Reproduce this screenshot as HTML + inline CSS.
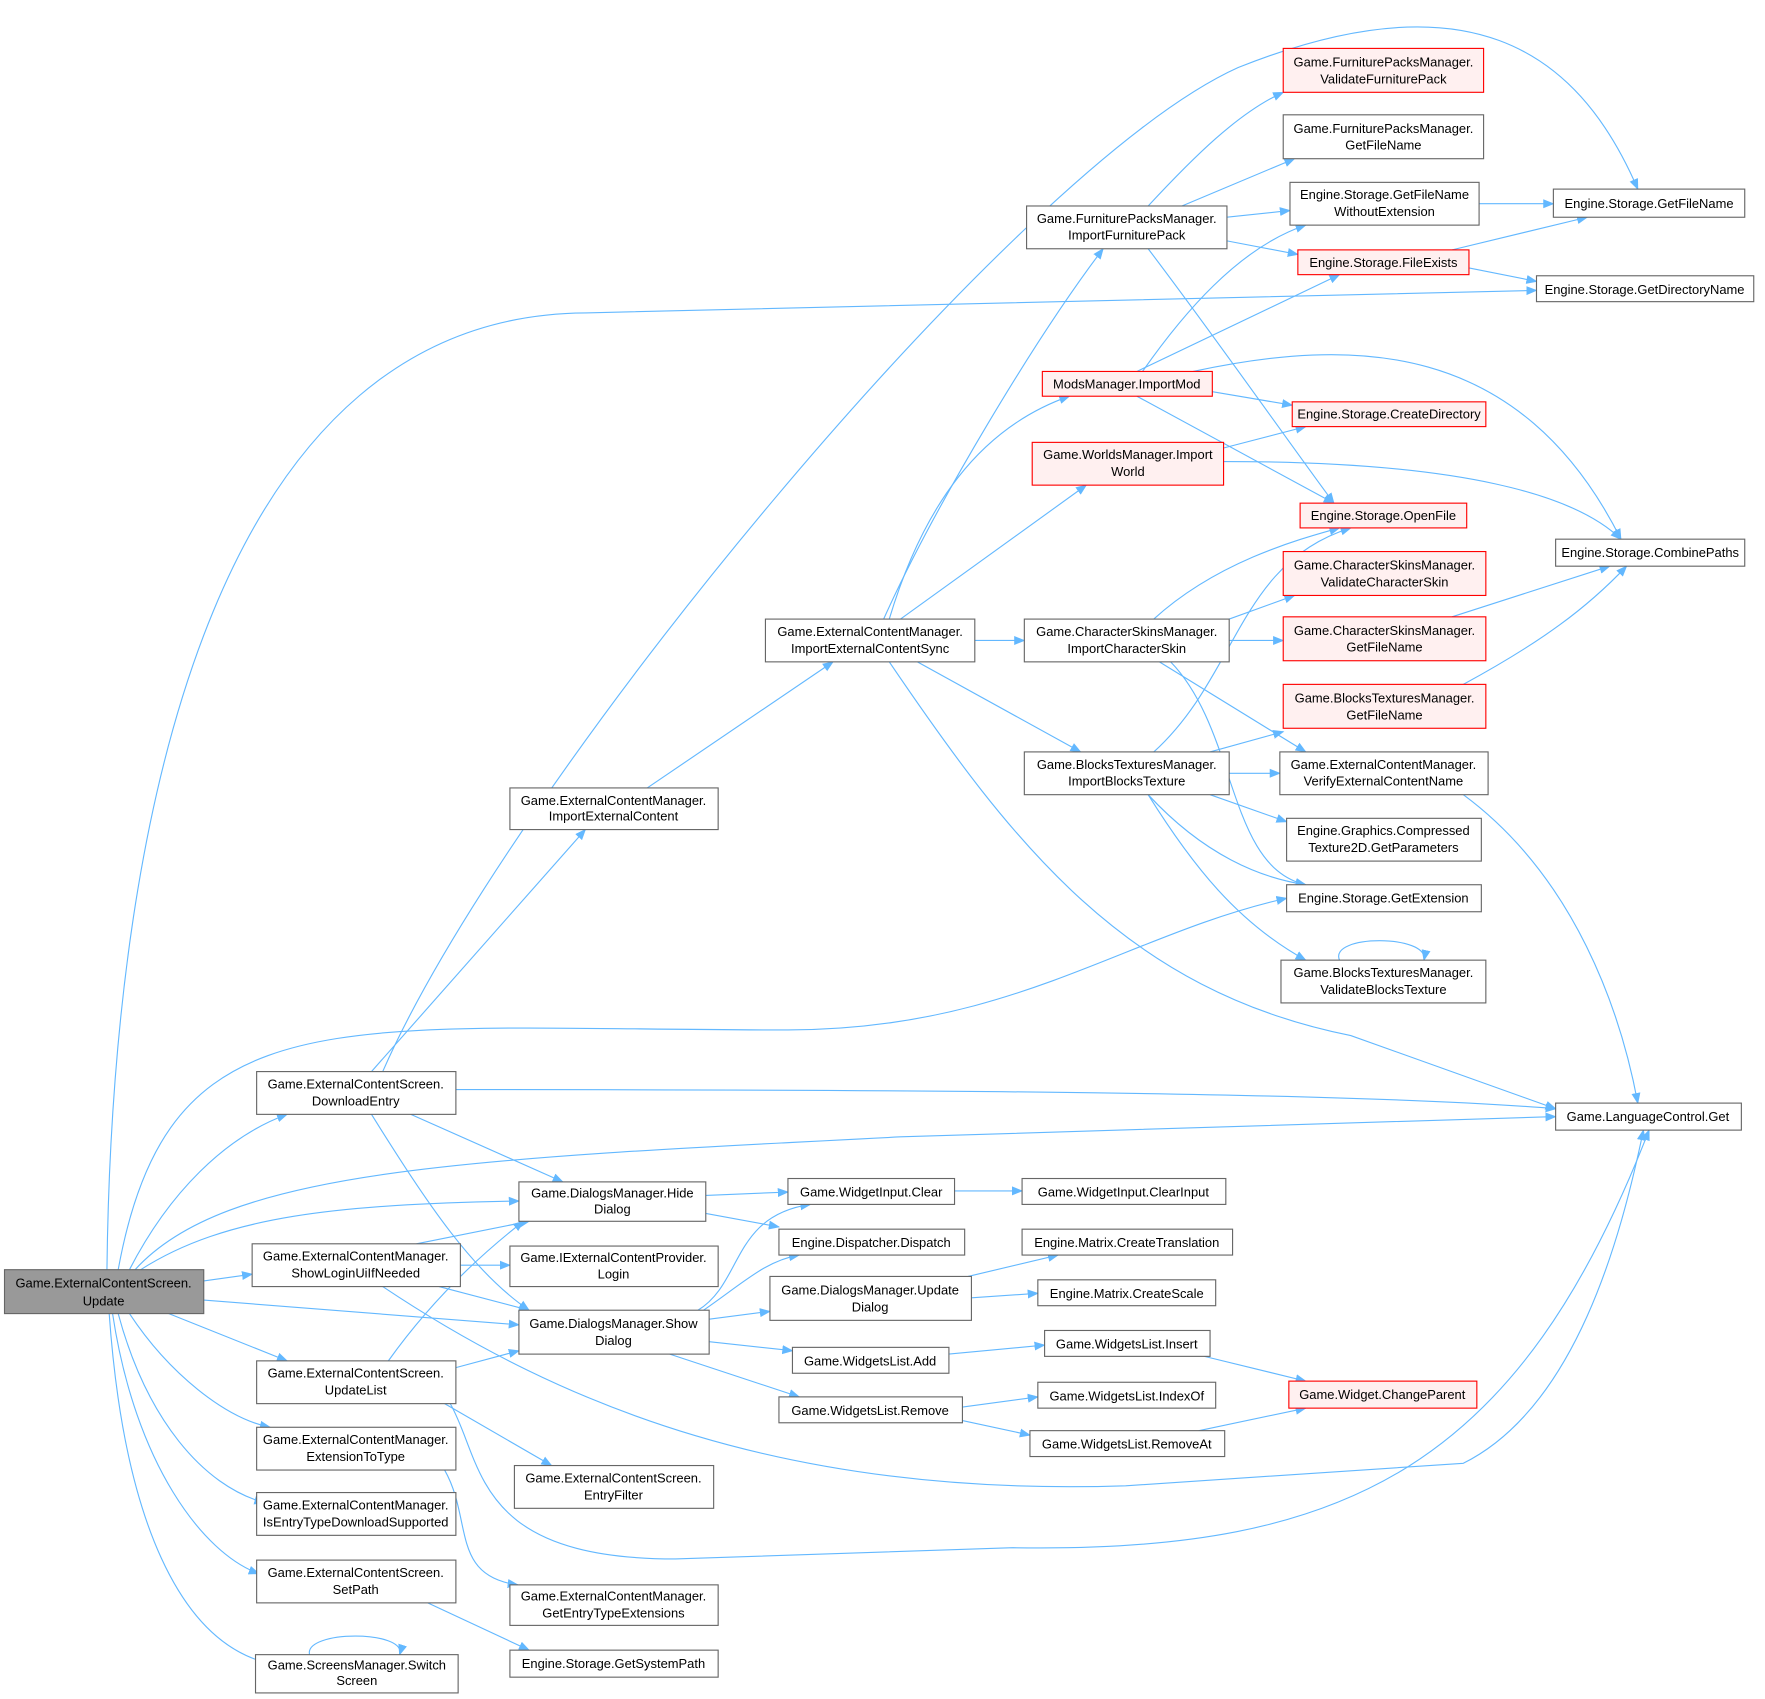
<!DOCTYPE html>
<html><head><meta charset="utf-8"><style>
html,body{margin:0;padding:0;background:#fff;}
svg{display:block;}
text{font-family:"Liberation Sans",Arial,sans-serif;font-size:11.5px;fill:#000;text-anchor:middle;}
.n{fill:#fff;stroke:#666;stroke-width:1;}
.r{fill:#fff0f0;stroke:#f00;stroke-width:1;}
.g{fill:#999;stroke:#666;stroke-width:1;}
.e{fill:none;stroke:#63b8ff;stroke-width:1;marker-end:url(#a);}
</style></head><body>
<svg width="1765" height="1699" viewBox="0 0 1568 1509.4" preserveAspectRatio="none" xmlns="http://www.w3.org/2000/svg">
<defs><marker id="a" viewBox="0 0 10 10" refX="9" refY="5" markerWidth="10" markerHeight="10" markerUnits="userSpaceOnUse" orient="auto"><path d="M0,1 L10,5 L0,9 z" fill="#63b8ff"/></marker></defs>
<g>
<path class="e" d="M95,1128 C100,700 200,280 520,278 L1365,258"/>
<path class="e" d="M105,1128 C150,880 300,915 700,915 C900,915 1000,830 1143,798"/>
<path class="e" d="M115,1128 C150,1060 200,1010 255,990"/>
<path class="e" d="M120,1128 C200,1040 400,1030 800,1010 L1382,992"/>
<path class="e" d="M125,1128 C200,1080 300,1070 461,1067"/>
<path class="e" d="M181,1138 L224,1132"/>
<path class="e" d="M181,1155 L461,1177"/>
<path class="e" d="M150,1167 L255,1209"/>
<path class="e" d="M115,1167 C150,1220 200,1260 240,1268"/>
<path class="e" d="M105,1167 C130,1260 180,1320 235,1335"/>
<path class="e" d="M100,1167 C120,1300 180,1380 230,1398"/>
<path class="e" d="M97,1167 C110,1350 160,1460 240,1478"/>
<path class="e" d="M340,952 C450,700 900,150 1100,60 C1300,-20 1400,40 1455,168"/>
<path class="e" d="M330,952 L520,737"/>
<path class="e" d="M405,968 C800,968 1200,970 1382,985"/>
<path class="e" d="M365,990 L500,1050"/>
<path class="e" d="M330,990 C380,1070 420,1130 470,1164"/>
<path class="e" d="M575,700 L740,588"/>
<path class="e" d="M370,1105 L470,1085"/>
<path class="e" d="M409,1124 L453,1124"/>
<path class="e" d="M390,1143 L470,1164"/>
<path class="e" d="M340,1143 C500,1250 700,1330 1000,1320 L1300,1300 C1400,1250 1440,1100 1460,1004"/>
<path class="e" d="M345,1209 C380,1160 420,1120 465,1085"/>
<path class="e" d="M405,1215 L461,1200"/>
<path class="e" d="M395,1247 L490,1302"/>
<path class="e" d="M400,1247 C430,1300 420,1385 600,1385 L900,1375 C1200,1380 1350,1300 1465,1004"/>
<path class="e" d="M395,1306 C420,1350 400,1400 460,1408"/>
<path class="e" d="M380,1424 L470,1466"/>
<path class="e" d="M275,1470 C270,1448 362,1448 355,1470"/>
<path class="e" d="M627,1062 L700,1059"/>
<path class="e" d="M627,1078 L692,1090"/>
<path class="e" d="M620,1164 C660,1140 650,1080 720,1070"/>
<path class="e" d="M625,1164 C660,1140 680,1120 710,1115"/>
<path class="e" d="M630,1172 L684,1165"/>
<path class="e" d="M630,1192 L704,1200"/>
<path class="e" d="M595,1203 L710,1241"/>
<path class="e" d="M848,1058 L908,1058"/>
<path class="e" d="M860,1134 L940,1115"/>
<path class="e" d="M863,1153 L922,1149"/>
<path class="e" d="M843,1203 L928,1195"/>
<path class="e" d="M855,1250 L922,1241"/>
<path class="e" d="M855,1262 L915,1275"/>
<path class="e" d="M1070,1205 L1160,1227"/>
<path class="e" d="M1065,1271 L1160,1251"/>
<path class="e" d="M785,550 C830,450 920,300 980,221"/>
<path class="e" d="M790,550 C820,450 870,380 950,352"/>
<path class="e" d="M800,550 L965,431"/>
<path class="e" d="M866,569 L910,569"/>
<path class="e" d="M815,588 L960,668"/>
<path class="e" d="M790,588 C900,750 1000,880 1200,920 L1382,985"/>
<path class="e" d="M1020,183 C1060,140 1100,100 1140,82"/>
<path class="e" d="M1050,183 L1150,141"/>
<path class="e" d="M1090,193 L1146,187"/>
<path class="e" d="M1090,214 L1153,226"/>
<path class="e" d="M1020,221 C1080,300 1150,400 1185,447"/>
<path class="e" d="M1015,330 C1050,280 1100,220 1160,200"/>
<path class="e" d="M1010,330 L1190,244"/>
<path class="e" d="M1077,348 L1148,360"/>
<path class="e" d="M1010,352 L1185,447"/>
<path class="e" d="M1060,330 C1200,300 1350,300 1440,479"/>
<path class="e" d="M1087,398 L1160,379"/>
<path class="e" d="M1087,410 C1300,410 1400,440 1440,479"/>
<path class="e" d="M1314,181 L1380,181"/>
<path class="e" d="M1290,222 L1410,193"/>
<path class="e" d="M1305,238 L1365,250"/>
<path class="e" d="M1025,550 C1080,500 1150,480 1190,469"/>
<path class="e" d="M1092,550 L1150,529"/>
<path class="e" d="M1092,569 L1140,569"/>
<path class="e" d="M1030,588 L1160,668"/>
<path class="e" d="M1040,588 C1100,650 1090,770 1160,786"/>
<path class="e" d="M1025,668 C1100,600 1100,500 1200,469"/>
<path class="e" d="M1075,668 L1140,650"/>
<path class="e" d="M1092,687 L1137,687"/>
<path class="e" d="M1075,706 L1143,730"/>
<path class="e" d="M1020,706 C1070,760 1120,780 1160,786"/>
<path class="e" d="M1020,706 C1060,770 1100,820 1160,853"/>
<path class="e" d="M1290,548 L1430,503"/>
<path class="e" d="M1300,608 C1370,570 1410,540 1445,503"/>
<path class="e" d="M1300,706 C1400,780 1440,900 1455,980"/>
<path class="e" d="M1190,853 C1180,830 1270,830 1265,853"/>
</g>
<g>
<rect class="g" x="4" y="1128" width="177" height="39"/><text x="92" y="1144">Game.ExternalContentScreen.</text><text x="92" y="1160">Update</text>
<rect class="n" x="228" y="952" width="177" height="38"/><text x="316" y="967">Game.ExternalContentScreen.</text><text x="316" y="982">DownloadEntry</text>
<rect class="n" x="224" y="1105" width="185" height="38"/><text x="316" y="1120">Game.ExternalContentManager.</text><text x="316" y="1135">ShowLoginUiIfNeeded</text>
<rect class="n" x="228" y="1209" width="177" height="38"/><text x="316" y="1224">Game.ExternalContentScreen.</text><text x="316" y="1239">UpdateList</text>
<rect class="n" x="228" y="1268" width="177" height="38"/><text x="316" y="1283">Game.ExternalContentManager.</text><text x="316" y="1298">ExtensionToType</text>
<rect class="n" x="228" y="1326" width="177" height="38"/><text x="316" y="1341">Game.ExternalContentManager.</text><text x="316" y="1356">IsEntryTypeDownloadSupported</text>
<rect class="n" x="228" y="1386" width="177" height="38"/><text x="316" y="1401">Game.ExternalContentScreen.</text><text x="316" y="1416">SetPath</text>
<rect class="n" x="227" y="1470" width="180" height="34"/><text x="317" y="1483">Game.ScreensManager.Switch</text><text x="317" y="1497">Screen</text>
<rect class="n" x="453" y="700" width="185" height="37"/><text x="545" y="715">Game.ExternalContentManager.</text><text x="545" y="729">ImportExternalContent</text>
<rect class="n" x="461" y="1050" width="166" height="35"/><text x="544" y="1064">Game.DialogsManager.Hide</text><text x="544" y="1078">Dialog</text>
<rect class="n" x="453" y="1107" width="185" height="36"/><text x="545" y="1121">Game.IExternalContentProvider.</text><text x="545" y="1136">Login</text>
<rect class="n" x="461" y="1164" width="169" height="39"/><text x="545" y="1180">Game.DialogsManager.Show</text><text x="545" y="1195">Dialog</text>
<rect class="n" x="457" y="1302" width="177" height="38"/><text x="545" y="1317">Game.ExternalContentScreen.</text><text x="545" y="1332">EntryFilter</text>
<rect class="n" x="453" y="1408" width="185" height="36"/><text x="545" y="1422">Game.ExternalContentManager.</text><text x="545" y="1437">GetEntryTypeExtensions</text>
<rect class="n" x="453" y="1466" width="185" height="24"/><text x="545" y="1482">Engine.Storage.GetSystemPath</text>
<rect class="n" x="680" y="550" width="186" height="38"/><text x="773" y="565">Game.ExternalContentManager.</text><text x="773" y="580">ImportExternalContentSync</text>
<rect class="n" x="912" y="183" width="178" height="38"/><text x="1001" y="198">Game.FurniturePacksManager.</text><text x="1001" y="213">ImportFurniturePack</text>
<rect class="r" x="926" y="330" width="151" height="22"/><text x="1001" y="345">ModsManager.ImportMod</text>
<rect class="r" x="917" y="393" width="170" height="38"/><text x="1002" y="408">Game.WorldsManager.Import</text><text x="1002" y="423">World</text>
<rect class="n" x="910" y="550" width="182" height="38"/><text x="1001" y="565">Game.CharacterSkinsManager.</text><text x="1001" y="580">ImportCharacterSkin</text>
<rect class="n" x="910" y="668" width="182" height="38"/><text x="1001" y="683">Game.BlocksTexturesManager.</text><text x="1001" y="698">ImportBlocksTexture</text>
<rect class="r" x="1140" y="43" width="178" height="39"/><text x="1229" y="59">Game.FurniturePacksManager.</text><text x="1229" y="74">ValidateFurniturePack</text>
<rect class="n" x="1140" y="102" width="178" height="39"/><text x="1229" y="118">Game.FurniturePacksManager.</text><text x="1229" y="133">GetFileName</text>
<rect class="n" x="1146" y="162" width="168" height="38"/><text x="1230" y="177">Engine.Storage.GetFileName</text><text x="1230" y="192">WithoutExtension</text>
<rect class="r" x="1153" y="222" width="152" height="22"/><text x="1229" y="237">Engine.Storage.FileExists</text>
<rect class="n" x="1380" y="168" width="170" height="25"/><text x="1465" y="185">Engine.Storage.GetFileName</text>
<rect class="n" x="1365" y="245" width="193" height="23"/><text x="1461" y="261">Engine.Storage.GetDirectoryName</text>
<rect class="r" x="1148" y="357" width="172" height="22"/><text x="1234" y="372">Engine.Storage.CreateDirectory</text>
<rect class="r" x="1155" y="447" width="148" height="22"/><text x="1229" y="462">Engine.Storage.OpenFile</text>
<rect class="n" x="1382" y="479" width="168" height="24"/><text x="1466" y="495">Engine.Storage.CombinePaths</text>
<rect class="r" x="1140" y="490" width="180" height="39"/><text x="1230" y="506">Game.CharacterSkinsManager.</text><text x="1230" y="521">ValidateCharacterSkin</text>
<rect class="r" x="1140" y="548" width="180" height="39"/><text x="1230" y="564">Game.CharacterSkinsManager.</text><text x="1230" y="579">GetFileName</text>
<rect class="r" x="1140" y="608" width="180" height="39"/><text x="1230" y="624">Game.BlocksTexturesManager.</text><text x="1230" y="639">GetFileName</text>
<rect class="n" x="1137" y="668" width="185" height="38"/><text x="1229" y="683">Game.ExternalContentManager.</text><text x="1229" y="698">VerifyExternalContentName</text>
<rect class="n" x="1143" y="727" width="173" height="38"/><text x="1229" y="742">Engine.Graphics.Compressed</text><text x="1229" y="757">Texture2D.GetParameters</text>
<rect class="n" x="1143" y="786" width="173" height="24"/><text x="1229" y="802">Engine.Storage.GetExtension</text>
<rect class="n" x="1138" y="853" width="182" height="38"/><text x="1229" y="868">Game.BlocksTexturesManager.</text><text x="1229" y="883">ValidateBlocksTexture</text>
<rect class="n" x="1382" y="980" width="165" height="24"/><text x="1464" y="996">Game.LanguageControl.Get</text>
<rect class="n" x="700" y="1047" width="148" height="23"/><text x="774" y="1063">Game.WidgetInput.Clear</text>
<rect class="n" x="908" y="1047" width="181" height="23"/><text x="998" y="1063">Game.WidgetInput.ClearInput</text>
<rect class="n" x="692" y="1092" width="165" height="23"/><text x="774" y="1108">Engine.Dispatcher.Dispatch</text>
<rect class="n" x="908" y="1092" width="187" height="23"/><text x="1001" y="1108">Engine.Matrix.CreateTranslation</text>
<rect class="n" x="684" y="1134" width="179" height="39"/><text x="773" y="1150">Game.DialogsManager.Update</text><text x="773" y="1165">Dialog</text>
<rect class="n" x="922" y="1137" width="158" height="23"/><text x="1001" y="1153">Engine.Matrix.CreateScale</text>
<rect class="n" x="704" y="1197" width="139" height="23"/><text x="773" y="1213">Game.WidgetsList.Add</text>
<rect class="n" x="928" y="1182" width="147" height="23"/><text x="1001" y="1198">Game.WidgetsList.Insert</text>
<rect class="n" x="692" y="1241" width="163" height="23"/><text x="773" y="1257">Game.WidgetsList.Remove</text>
<rect class="n" x="922" y="1228" width="158" height="23"/><text x="1001" y="1244">Game.WidgetsList.IndexOf</text>
<rect class="n" x="915" y="1271" width="173" height="23"/><text x="1001" y="1287">Game.WidgetsList.RemoveAt</text>
<rect class="r" x="1145" y="1227" width="167" height="24"/><text x="1228" y="1243">Game.Widget.ChangeParent</text>
</g>
</svg>
</body></html>
